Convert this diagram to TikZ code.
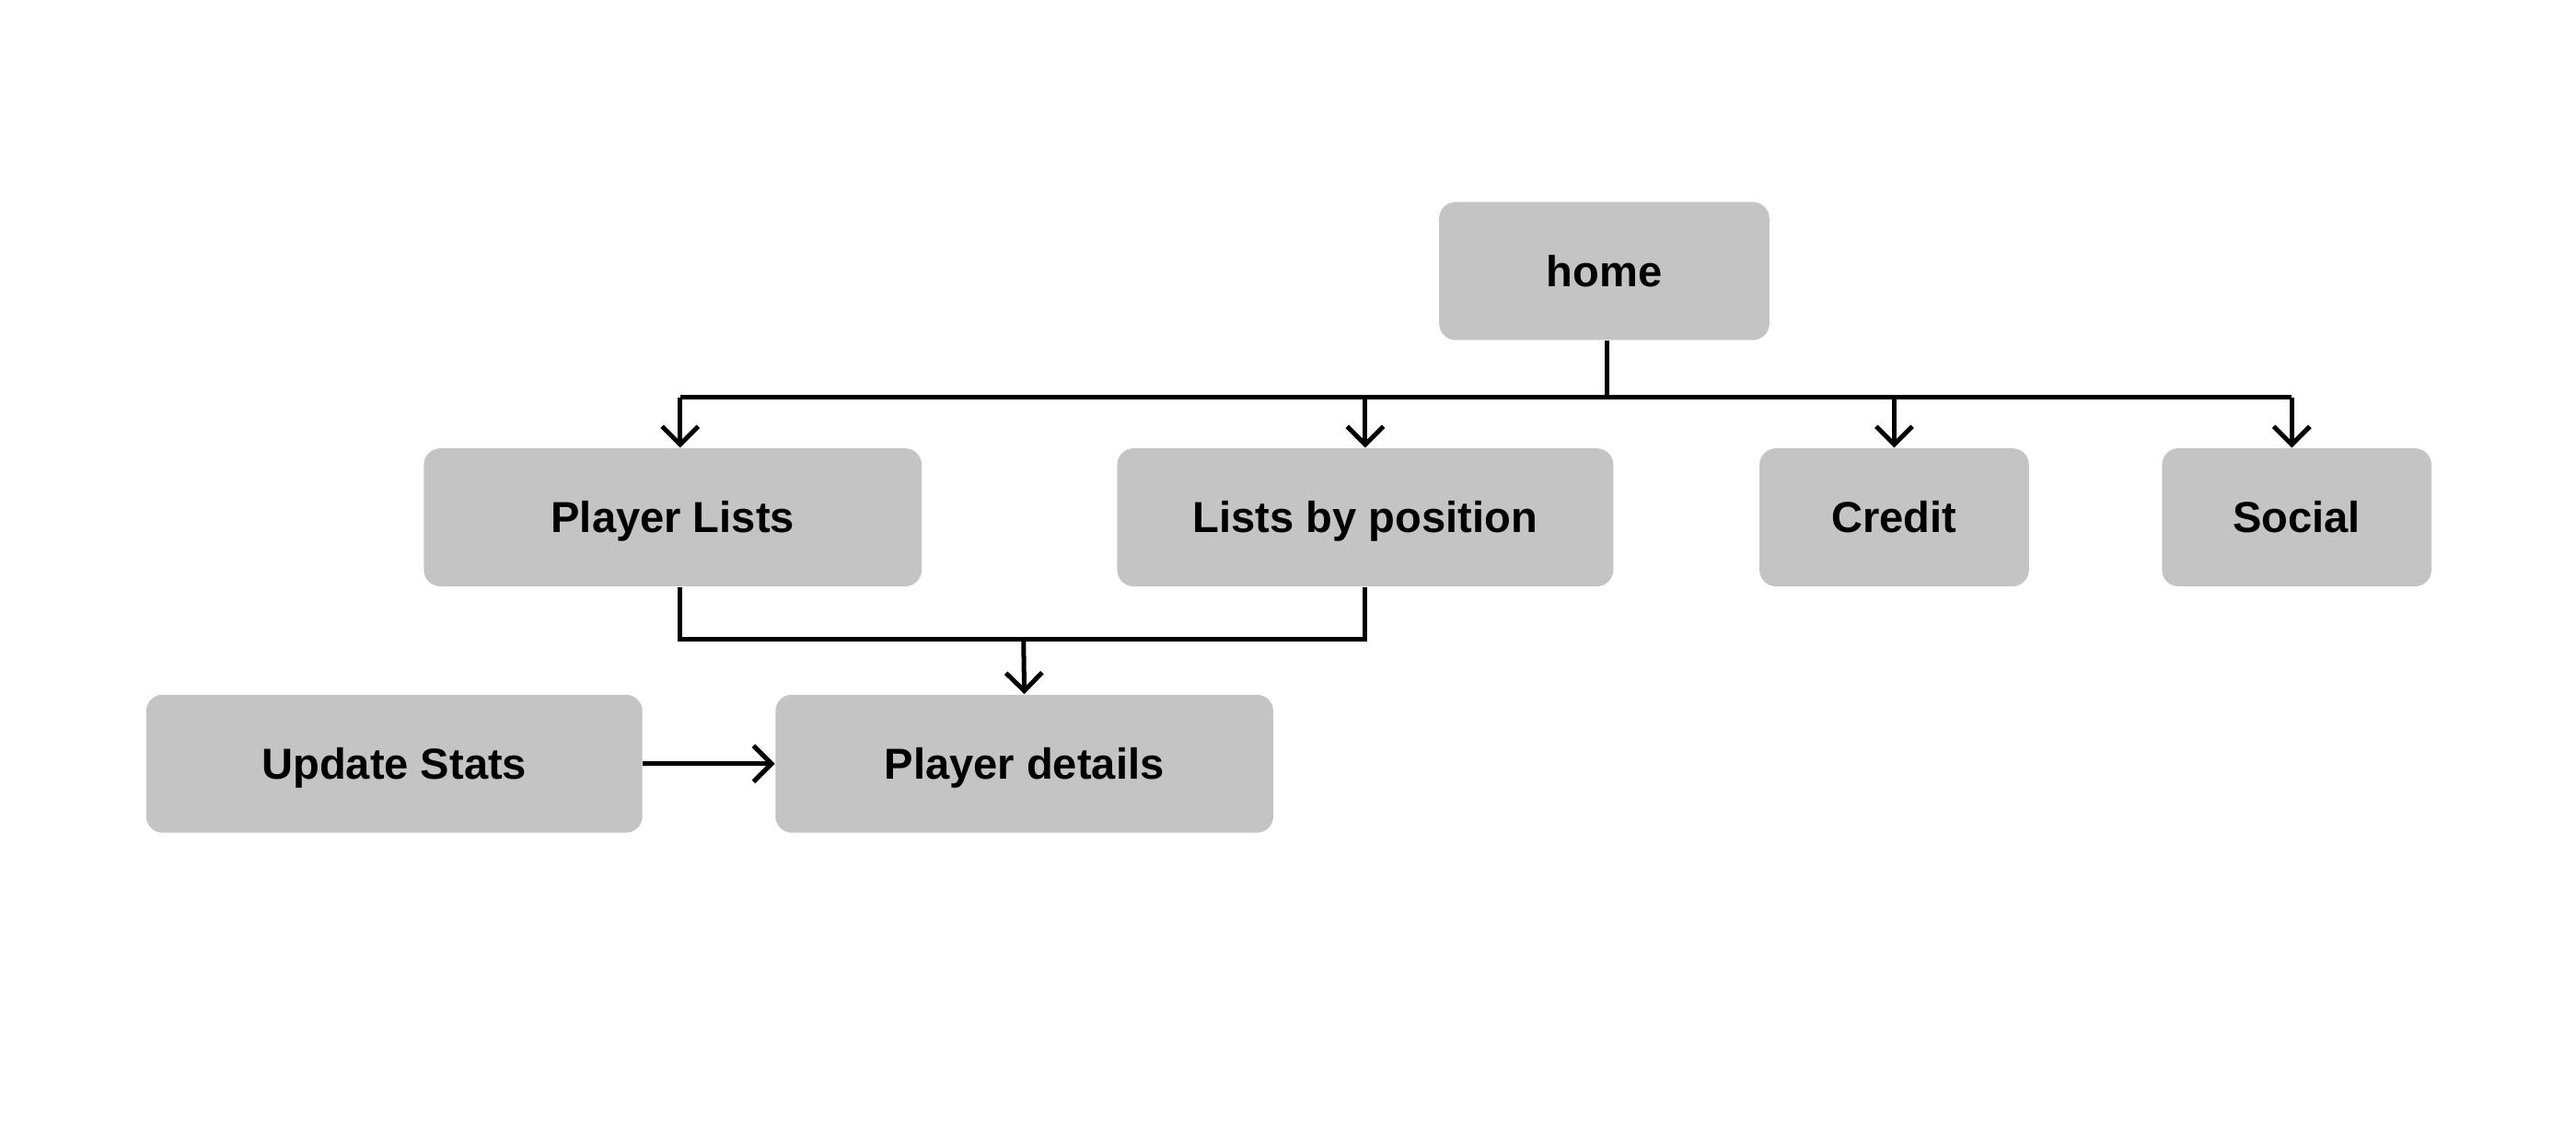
\documentclass[tikz,border=0pt]{standalone}
\usepackage{fontspec}
\setmainfont{Liberation Sans}
\usetikzlibrary{arrows.meta}
\begin{document}
\begin{tikzpicture}[x=0.5pt,y=-0.5pt,
  box/.style={fill=boxgray, rounded corners=5pt, minimum height=42pt, inner sep=0pt,
    text height=9.4pt, text depth=0pt,
    font=\fontsize{13.2}{15}\selectfont\bfseries, text=black},
  wire/.style={line width=1.4pt, draw=black},
  arr/.style={wire, -{Straight Barb[length=5.5pt,width=11pt,line width=1.4pt]}}]
\definecolor{boxgray}{HTML}{C4C4C4}
\useasboundingbox[fill=white] (0,0) rectangle (1568,683);
\node[box, minimum width=100.5pt] (home) at (976.5,165) {home};
\node[box, minimum width=151.5pt] (pl) at (409.5,315) {Player Lists};
\node[box, minimum width=151pt] (lbp) at (831,315) {Lists by position};
\node[box, minimum width=82pt] (cr) at (1153,315) {Credit};
\node[box, minimum width=82pt] (so) at (1398,315) {Social};
\node[box, minimum width=151pt] (us) at (240,465) {Update Stats};
\node[box, minimum width=151.5pt] (pd) at (623.5,465) {Player details};
\coordinate (barL) at (414,242);
\coordinate (barR) at (1395,242);
\coordinate (stem) at (978,242);
\coordinate (j) at (623,389);
\draw[wire] (stem |- home.south) -- (stem);
\draw[wire] (barL) -- (barR);
\draw[arr] (barL) -- (barL |- pl.north);
\draw[arr] (lbp.north |- barL) -- (lbp.north);
\draw[arr] (cr.north |- barL) -- (cr.north);
\draw[arr] (barR) -- (barR |- so.north);
\draw[wire] (barL |- pl.south) -- (barL |- j) -- (lbp.south |- j) -- (lbp.south);
\draw[arr] (j) -- (pd.north);
\draw[arr] (us.east) -- (pd.west);
\end{tikzpicture}
\end{document}
